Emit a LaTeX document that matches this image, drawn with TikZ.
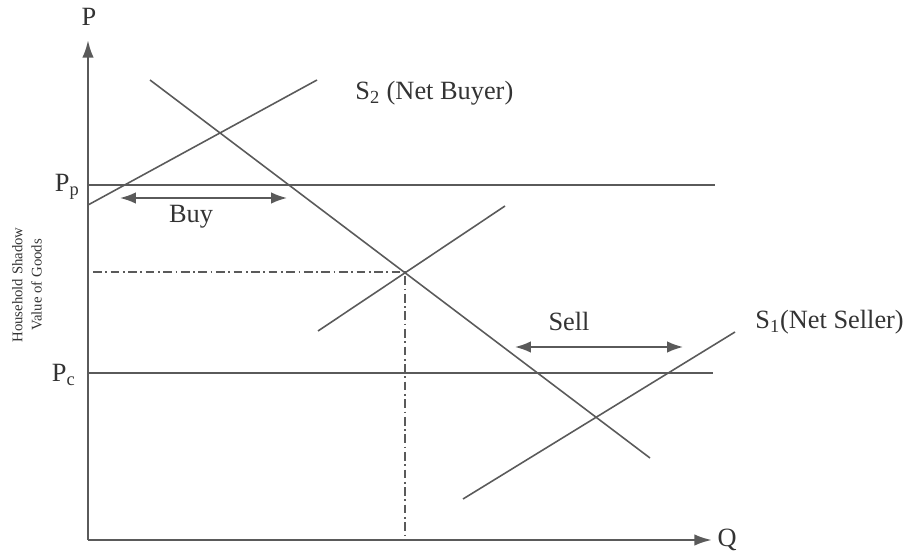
\documentclass[tikz,border=0pt]{standalone}
\usepackage{fontspec}
\setmainfont{Liberation Serif}
\usepackage{xcolor}
\usetikzlibrary{arrows.meta, positioning}

\definecolor{linegray}{HTML}{5A5A5A}

\tikzset{
  curve/.style={draw=linegray, line width=0.9pt},
  axis/.style={draw=linegray, line width=1.4pt, -{Latex[length=10pt,width=6.5pt]}},
  guide/.style={draw=linegray, line width=0.8pt, dash pattern=on 5pt off 2pt on 1pt off 2pt},
  span/.style={draw=linegray, line width=1pt, {Latex[length=9pt,width=6.5pt]}-{Latex[length=9pt,width=6.5pt]}},
  lbl/.style={text=black!80, font=\fontsize{15}{17}\selectfont, inner sep=0pt},
}

\begin{document}
\begin{tikzpicture}[x=0.02cm, y=-0.02cm]
    \useasboundingbox (0,0) rectangle (910,554);

    % 1. Axes
    \coordinate (O) at (88, 540);
    \coordinate (Ytip) at (88, 40);
    \coordinate (Xtip) at (712, 540);
    \draw[axis] (O) -- (Ytip);
    \draw[axis] (O) -- (Xtip);
    \node[lbl] (P) at (89, 17) {P};
    \node[lbl, right=3pt of Xtip] (Q) {Q};
    \node[rotate=90, align=center, text=black!80, font=\fontsize{8.4}{11}\selectfont] (vlabel) at (27, 285)
        {Household Shadow\\Value of Goods};

    % 2. Price levels
    \coordinate (Pp0) at (88, 185);
    \coordinate (Pp1) at (715, 185);
    \coordinate (Pc0) at (88, 373);
    \coordinate (Pc1) at (713, 373);
    \draw[curve] (Pp0) -- (Pp1);
    \draw[curve] (Pc0) -- (Pc1);
    \node[lbl, anchor=east] (Pp) at (80, 187) {P\textsubscript{p}};
    \node[lbl, anchor=east] (Pc) at (76, 375) {P\textsubscript{c}};

    % 3. Demand and the three supply lines
    \coordinate (D0) at (150, 80);
    \coordinate (D1) at (650, 458);
    \coordinate (S20) at (88, 205);
    \coordinate (S21) at (317, 80);
    \coordinate (SM0) at (318, 331);
    \coordinate (SM1) at (505, 206);
    \coordinate (S10) at (463, 499);
    \coordinate (S11) at (735, 332);
    \draw[curve] (D0) -- (D1);
    \draw[curve] (S20) -- (S21);
    \draw[curve] (SM0) -- (SM1);
    \draw[curve] (S10) -- (S11);
    \node[lbl, anchor=west] (S2) at (355, 93) {S\textsubscript{2} (Net Buyer)};
    \node[lbl, anchor=west] (S1) at (755, 322) {S\textsubscript{1}(Net Seller)};

    % 4. Equilibrium guides
    \coordinate (E) at (405, 272);
    \coordinate (Ey) at (93, 272);
    \coordinate (Ex) at (405, 540);
    \draw[guide] (Ey) -- (E) -- (Ex);

    % 5. Buy and sell spans
    \coordinate (B0) at (120, 198);
    \coordinate (B1) at (287, 198);
    \coordinate (L0) at (515, 347);
    \coordinate (L1) at (683, 347);
    \draw[span] (B0) -- (B1);
    \draw[span] (L0) -- (L1);
    \node[lbl] (buy) at (191, 217) {Buy};
    \node[lbl] (sell) at (569, 321) {Sell};

\end{tikzpicture}
\end{document}
